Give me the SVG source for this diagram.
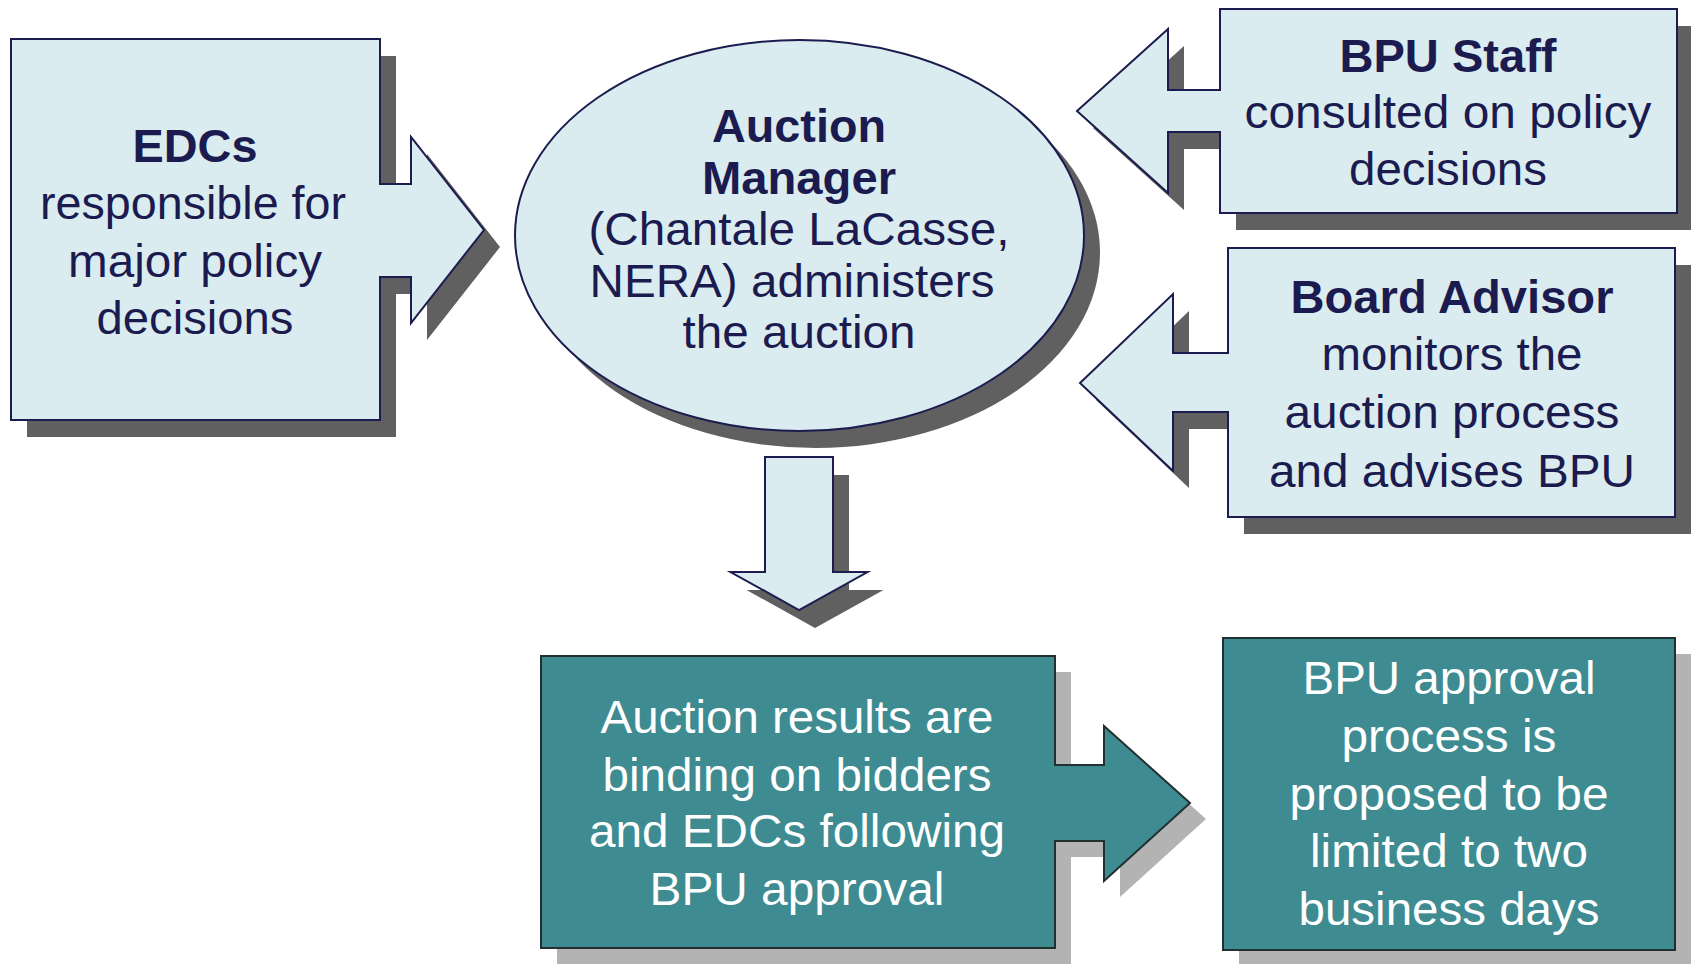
<svg xmlns="http://www.w3.org/2000/svg" width="1691" height="964" viewBox="0 0 1691 964">
<style>
.light{fill:#DAECEF;stroke:#1C1C50;stroke-width:2}
.sh{fill:#606060}
.teal{fill:#3E8B91;stroke:#22302F;stroke-width:2}
.sh2{fill:#B3B3B3}
text{font-family:"Liberation Sans",Arial,sans-serif;font-size:46px;text-anchor:middle}
.n{fill:#1B1B50}
.b{font-weight:bold}
.w{fill:#FFFFFF}
</style>
<rect width="1691" height="964" fill="#FFFFFF"/>
<g id="edcs">
<path class="sh" transform="translate(16,17)" d="M11,39 H380 V184 H411 V137 L484,230 L411,323 V277 H380 V420 H11 Z"/>
<path class="light" d="M11,39 H380 V184 H411 V137 L484,230 L411,323 V277 H380 V420 H11 Z"/>
<text class="n b" x="195" y="161.5" textLength="125" lengthAdjust="spacingAndGlyphs">EDCs</text>
<text class="n" x="193" y="219" textLength="306" lengthAdjust="spacingAndGlyphs">responsible for</text>
<text class="n" x="195" y="277" textLength="254" lengthAdjust="spacingAndGlyphs">major policy</text>
<text class="n" x="195" y="334" textLength="197" lengthAdjust="spacingAndGlyphs">decisions</text>
</g>
<g id="auction-manager">
<ellipse class="sh" cx="815.5" cy="252.5" rx="284.5" ry="195.5"/>
<ellipse class="light" cx="799.5" cy="235.5" rx="284.5" ry="195.5"/>
<text class="n b" x="799" y="142" textLength="174" lengthAdjust="spacingAndGlyphs">Auction</text>
<text class="n b" x="799" y="193.5" textLength="194" lengthAdjust="spacingAndGlyphs">Manager</text>
<text class="n" x="799" y="245" textLength="421" lengthAdjust="spacingAndGlyphs">(Chantale LaCasse,</text>
<text class="n" x="792" y="296.5" textLength="405" lengthAdjust="spacingAndGlyphs">NERA) administers</text>
<text class="n" x="799" y="348" textLength="233" lengthAdjust="spacingAndGlyphs">the auction</text>
</g>
<g id="bpu-staff">
<path class="sh" transform="translate(16,17)" d="M1220,9 H1677 V213 H1220 V132 H1168 V193 L1077,111 L1168,29 V90 H1220 Z"/>
<path class="light" d="M1220,9 H1677 V213 H1220 V132 H1168 V193 L1077,111 L1168,29 V90 H1220 Z"/>
<text class="n b" x="1448" y="72" textLength="217" lengthAdjust="spacingAndGlyphs">BPU Staff</text>
<text class="n" x="1448" y="128" textLength="407" lengthAdjust="spacingAndGlyphs">consulted on policy</text>
<text class="n" x="1448" y="185" textLength="198" lengthAdjust="spacingAndGlyphs">decisions</text>
</g>
<g id="board-advisor">
<path class="sh" transform="translate(16,17)" d="M1228,248 H1675 V517 H1228 V412 H1173 V471 L1080,383 L1173,294 V353 H1228 Z"/>
<path class="light" d="M1228,248 H1675 V517 H1228 V412 H1173 V471 L1080,383 L1173,294 V353 H1228 Z"/>
<text class="n b" x="1452" y="313" textLength="323" lengthAdjust="spacingAndGlyphs">Board Advisor</text>
<text class="n" x="1452" y="370" textLength="261" lengthAdjust="spacingAndGlyphs">monitors the</text>
<text class="n" x="1452" y="428" textLength="335" lengthAdjust="spacingAndGlyphs">auction process</text>
<text class="n" x="1452" y="487" textLength="366" lengthAdjust="spacingAndGlyphs">and advises BPU</text>
</g>
<g id="results">
<path class="sh2" transform="translate(16,16)" d="M541,656 H1055 V765 H1104 V726 L1190,803 L1104,881 V841 H1055 V948 H541 Z"/>
<path class="teal" d="M541,656 H1055 V765 H1104 V726 L1190,803 L1104,881 V841 H1055 V948 H541 Z"/>
<text class="w" x="797" y="733" textLength="393" lengthAdjust="spacingAndGlyphs">Auction results are</text>
<text class="w" x="797" y="791" textLength="389" lengthAdjust="spacingAndGlyphs">binding on bidders</text>
<text class="w" x="797" y="847" textLength="416" lengthAdjust="spacingAndGlyphs">and EDCs following</text>
<text class="w" x="797" y="905" textLength="295" lengthAdjust="spacingAndGlyphs">BPU approval</text>
</g>
<g id="bpu-approval">
<rect class="sh2" x="1239" y="654" width="452" height="312"/>
<rect class="teal" x="1223" y="638" width="452" height="312"/>
<text class="w" x="1449" y="694" textLength="293" lengthAdjust="spacingAndGlyphs">BPU approval</text>
<text class="w" x="1449" y="752" textLength="215" lengthAdjust="spacingAndGlyphs">process is</text>
<text class="w" x="1449" y="810" textLength="319" lengthAdjust="spacingAndGlyphs">proposed to be</text>
<text class="w" x="1449" y="867" textLength="278" lengthAdjust="spacingAndGlyphs">limited to two</text>
<text class="w" x="1449" y="925" textLength="301" lengthAdjust="spacingAndGlyphs">business days</text>
</g>
<g id="connectors">
<path class="sh" transform="translate(16,18)" d="M765,457 H833 V572 H867.5 L799,610 L730.5,572 H765 Z"/>
<path class="light" d="M765,457 H833 V572 H867.5 L799,610 L730.5,572 H765 Z"/>
</g>
</svg>
